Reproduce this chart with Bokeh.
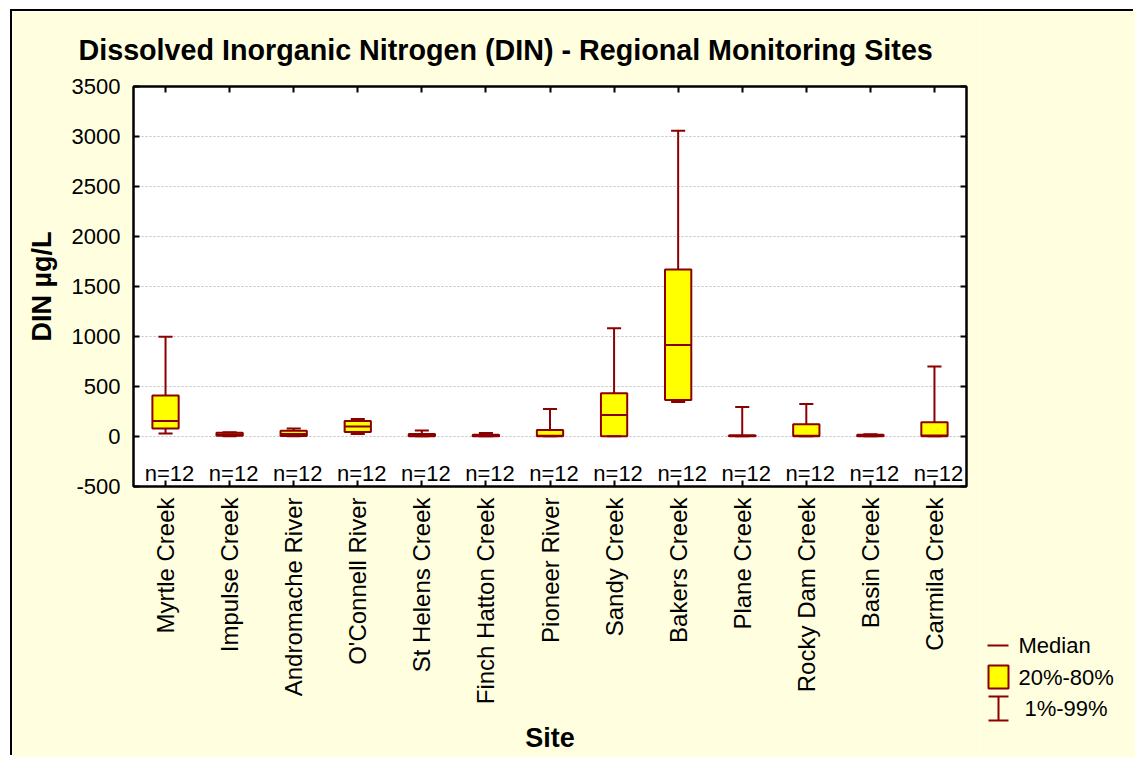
import math
from bokeh.plotting import figure
from bokeh.models import (ColumnDataSource, LinearAxis, CategoricalAxis,
                          SingleIntervalTicker, CustomJSTickFormatter, Range1d,
                          NumeralTickFormatter)
from bokeh.transform import dodge
from bokeh.layouts import row, column
from bokeh.core.properties import value
from bokeh.embed import file_html
from bokeh.resources import INLINE

# ---------------- data ----------------
sites = ["Myrtle Creek", "Impulse Creek", "Andromache River", "O'Connell River",
         "St Helens Creek", "Finch Hatton Creek", "Pioneer River", "Sandy Creek",
         "Bakers Creek", "Plane Creek", "Rocky Dam Creek", "Basin Creek", "Carmila Creek"]
p01 = [30, 3, 2, 24, 2, 2, 2, 2, 346, 2, 2, 2, 2]
p20 = [80, 8, 5, 44, 3, 3, 3, 3, 366, 3, 3, 3, 3]
median = [154, 20, 24, 100, 10, 8, 8, 216, 915, 5, 8, 8, 10]
p80 = [409, 38, 57, 154, 24, 17, 64, 433, 1671, 12, 123, 18, 143]
p99 = [998, 42, 80, 174, 60, 34, 276, 1082, 3058, 296, 326, 22, 699]
n_counts = [12] * 13

title_text = "Dissolved Inorganic Nitrogen (DIN) - Regional Monitoring Sites"
x_title = "Site"
y_title = "DIN \u00b5g/L"
y_ticks_interval = 500
y_min, y_max = -500, 3500
legend_labels = ["Median", "20%-80%", "1%-99%"]

# ---------------- styles ----------------
FONT = "Liberation Sans"
CREAM = "#FFFFE0"
DARK = "#8B0000"
YELLOW = "#FFFF00"

src = ColumnDataSource(dict(site=sites, p01=p01, p20=p20, med=median, p80=p80,
                            p99=p99, nlab=[f"n={n}" for n in n_counts]))

H = 746
p = figure(x_range=sites, y_range=Range1d(y_min, y_max), width=968, height=H,
           output_backend="svg", toolbar_location=None,
           min_border_left=121, min_border_right=14, min_border_top=74,
           min_border_bottom=H - 74 - 401, background_fill_color="white",
           border_fill_color=CREAM, outline_line_color="black",
           outline_line_width=2)

p.title.text = title_text
p.title.align = "left"
p.title.offset = -55
p.title.standoff = 41
p.title.text_font = FONT
p.title.text_font_size = "28.7px"
p.title.text_font_style = "bold"
p.title.text_color = "black"

ticker = SingleIntervalTicker(interval=y_ticks_interval)
p.xgrid.visible = False
p.ygrid.ticker = ticker
p.ygrid.grid_line_color = "#C0C0C0"
p.ygrid.grid_line_dash = "2 2"
p.ygrid.grid_line_width = 1

ya = p.yaxis[0]
ya.ticker = ticker
ya.formatter = NumeralTickFormatter(format="0")
ya.major_tick_in = 6
ya.major_tick_out = 0
ya.minor_tick_line_color = None
ya.axis_line_color = "black"
ya.axis_line_width = 2
ya.major_tick_line_width = 2
ya.major_label_text_font = FONT
ya.major_label_text_font_size = "22px"
ya.major_label_text_color = "black"
ya.major_label_standoff = 9
ya.axis_label = y_title
ya.axis_label_text_font = FONT
ya.axis_label_text_font_size = "27px"
ya.axis_label_text_font_style = "bold"
ya.axis_label_text_color = "black"
ya.axis_label_standoff = 12

xa = p.xaxis[0]
xa.major_tick_in = 6
xa.major_tick_out = 0
xa.axis_line_color = "black"
xa.axis_line_width = 2
xa.major_tick_line_width = 2
xa.major_label_orientation = math.pi / 2
xa.major_label_text_font = FONT
xa.major_label_text_font_size = "24px"
xa.major_label_text_color = "black"
xa.major_label_standoff = 11
xa.axis_label = x_title
xa.axis_label_text_font = FONT
xa.axis_label_text_font_size = "27px"
xa.axis_label_text_font_style = "bold"
xa.axis_label_text_color = "black"
xa.axis_label_standoff = 16

ra = LinearAxis(ticker=ticker, formatter=CustomJSTickFormatter(code="return ''"),
                major_tick_in=6, major_tick_out=0, minor_tick_line_color=None,
                axis_line_color="black", axis_line_width=2, major_tick_line_width=2,
                major_label_standoff=0, major_label_text_font_size="0px")
p.add_layout(ra, "right")
ta = CategoricalAxis(major_tick_in=6, major_tick_out=0, axis_line_color="black",
                     axis_line_width=2, major_tick_line_width=2,
                     major_label_standoff=0, major_label_text_font_size="0px",
                     major_label_text_color=None)
p.add_layout(ta, "above")

# boxes
p.vbar(x="site", width=0.41, bottom="p20", top="p80", source=src,
       fill_color=YELLOW, line_color=DARK, line_width=2)
# medians
p.segment(x0=dodge("site", -0.205, range=p.x_range), x1=dodge("site", 0.205, range=p.x_range),
          y0="med", y1="med", source=src, line_color=DARK, line_width=2)
# whiskers
p.segment(x0="site", x1="site", y0="p80", y1="p99", source=src, line_color=DARK, line_width=2)
p.segment(x0="site", x1="site", y0="p01", y1="p20", source=src, line_color=DARK, line_width=2)
for col in ("p99", "p01"):
    p.segment(x0=dodge("site", -0.11, range=p.x_range), x1=dodge("site", 0.11, range=p.x_range),
              y0=col, y1=col, source=src, line_color=DARK, line_width=2)
# n labels
p.text(x="site", y=-365, text="nlab", source=src, x_offset=4,
       text_font=value(FONT), text_font_size="22px", text_color="black",
       text_align="center", text_baseline="middle")

# ---------------- legend panel ----------------
LW = 155
leg = figure(width=LW, height=H, x_range=Range1d(0, LW), y_range=Range1d(H, 0),
             output_backend="svg", toolbar_location=None, x_axis_type=None,
             y_axis_type=None, min_border_left=0, min_border_right=0,
             min_border_top=0, min_border_bottom=0, border_fill_color=CREAM,
             background_fill_color=CREAM, outline_line_color=None,
             outline_line_alpha=0)
leg.grid.visible = False
# cream strip over the panel's right edge
leg.quad(left=LW - 4, right=LW + 4, top=0, bottom=H, fill_color=CREAM, line_color=None)
row_y = [634 + 31.5 * i for i in range(len(legend_labels))]
leg.segment(x0=7, x1=28, y0=row_y[0], y1=row_y[0], line_color=DARK, line_width=2)
leg.quad(left=8, right=28, top=row_y[1] - 11.5, bottom=row_y[1] + 11.5,
         fill_color=YELLOW, line_color=DARK, line_width=2)
leg.segment(x0=18, x1=18, y0=row_y[2] - 12, y1=row_y[2] + 12, line_color=DARK, line_width=2)
leg.segment(x0=[8, 8], x1=[28, 28], y0=[row_y[2] - 12, row_y[2] + 12],
            y1=[row_y[2] - 12, row_y[2] + 12], line_color=DARK, line_width=2)
leg.text(x=[38, 38, 44], y=row_y, text=legend_labels,
         text_font=value(FONT), text_font_size="22px", text_color="black",
         text_align="left", text_baseline="middle")

lay = row(p, column(leg))
lay.styles = {"box-shadow": "-2px -2px 0 0 black"}
lay.margin = (11, 0, 0, 12)

open("out.html", "w").write(file_html(lay, INLINE))
